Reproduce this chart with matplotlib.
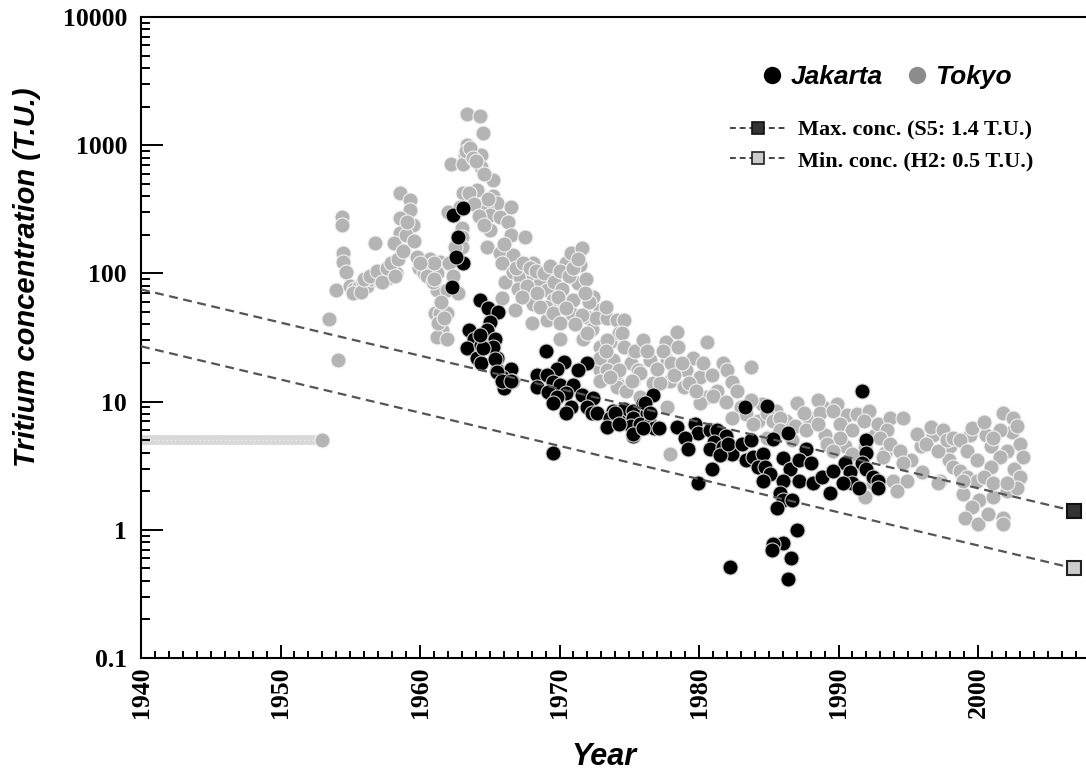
import numpy as np
import matplotlib
matplotlib.use('Agg')
import matplotlib.pyplot as plt
from matplotlib.lines import Line2D
from matplotlib.ticker import MultipleLocator, LogLocator, NullFormatter, FixedLocator

# Tokyo monthly tritium (T.U.)
tokyo_year = [1953.0, 1953.5, 1954.1, 1954.0, 1954.4, 1954.4, 1954.5, 1954.5, 1954.7,
              1955.0, 1955.3, 1955.6, 1955.9, 1956.2, 1956.5, 1956.8, 1957.1, 1957.4, 1957.7, 1958.0, 1958.3, 1956.8,
              1955.2, 1955.8, 1956.0, 1956.4, 1956.9, 1957.3, 1957.6, 1957.9, 1958.2, 1958.4,
              1958.6, 1959.3, 1959.3, 1958.6, 1959.5, 1958.6, 1958.1, 1958.8, 1959.8, 1960.7, 1961.4, 1961.2, 1961.2,
              1961.9, 1961.1, 1961.6, 1961.2, 1961.9, 1962.7, 1961.4, 1961.9, 1961.3,
              1959.0, 1959.1, 1959.6, 1959.9, 1960.3, 1960.5, 1960.9, 1961.0, 1961.5, 1961.7, 1961.0, 1960.0,
              1962.2, 1963.2, 1963.4, 1963.4, 1964.3, 1964.5, 1964.4, 1964.4, 1963.1, 1965.2, 1964.1, 1963.1, 1965.2,
              1965.5, 1964.7, 1966.5, 1965.0, 1965.7, 1966.3, 1965.0, 1966.5, 1967.5, 1963.0, 1963.0, 1963.0, 1964.8,
              1962.0, 1962.1, 1962.4, 1962.5, 1962.9, 1963.3, 1963.6, 1963.8, 1964.0, 1964.6, 1964.9, 1963.5, 1963.9,
              1964.2, 1964.6,
              1965.7, 1966.7, 1968.1, 1965.9, 1966.1, 1965.9, 1966.8, 1966.7, 1967.2, 1968.1, 1968.6, 1969.1, 1969.8,
              1970.5, 1970.8, 1971.6, 1971.5, 1971.3, 1969.5, 1968.1, 1968.0, 1969.1, 1970.3, 1971.0, 1972.4, 1972.9,
              1972.0, 1972.3, 1971.7, 1970.0, 1972.9, 1974.1,
              1966.0, 1966.9, 1967.0, 1967.4, 1967.7, 1967.9, 1968.3, 1968.9, 1969.3, 1969.6, 1970.0, 1970.2, 1970.7,
              1971.0, 1971.3, 1971.9, 1972.1, 1972.6, 1969.0, 1969.9, 1970.9, 1971.8, 1967.3, 1968.4,
              1968.6, 1969.5, 1970.0, 1970.5, 1971.6, 1971.1, 1972.0, 1973.4, 1974.1, 1972.9, 1973.6, 1974.3, 1975.3,
              1973.8, 1972.9, 1975.1, 1975.6, 1974.1, 1973.4, 1976.5, 1972.9, 1974.1, 1975.3, 1976.7, 1974.8, 1975.8,
              1973.3, 1974.6, 1974.5, 1973.4, 1973.3, 1974.6, 1975.4, 1974.3, 1973.6, 1975.8, 1975.2, 1977.6, 1978.4,
              1978.5, 1980.6, 1979.6, 1977.7, 1979.1, 1977.9, 1977.2, 1980.1, 1978.9, 1981.7, 1982.0, 1982.4, 1983.7,
              1981.3, 1980.6, 1980.1, 1977.7, 1977.9,
              1976.0, 1976.3, 1977.0, 1977.4, 1978.0, 1978.2, 1978.8, 1979.3, 1979.8, 1980.3, 1980.9, 1981.0, 1981.9,
              1982.7, 1983.0, 1983.4, 1984.2, 1984.5, 1985.5, 1986.2, 1986.9, 1987.9, 1988.9, 1989.9, 1990.6, 1991.3,
              1992.2, 1989.0, 1990.5, 1992.6, 1993.3, 1995.2, 1995.9, 1996.8, 1998.0, 1999.4, 2000.6, 2000.9, 2002.4,
              2002.6, 1996.0, 1997.9,
              1982.4, 1983.7, 1983.9, 1984.9, 1985.3, 1985.8, 1987.0, 1987.5, 1988.5, 1988.7, 1989.6, 1987.7, 1985.8,
              1984.9, 1986.7, 1988.5, 1990.1, 1991.0, 1991.8, 1992.8, 1993.7, 1994.6, 1993.5, 1993.0, 1990.1, 1989.2,
              1989.6, 1991.9, 1991.0, 1993.2, 1993.7, 1994.4, 1994.6, 1993.9, 1994.9, 1994.2, 1991.9, 1992.5,
              1995.6, 1996.6, 1997.5, 1996.3, 1997.1, 1997.8, 1998.2, 1998.7, 1999.2, 1999.6, 2000.4, 1998.2, 1998.7,
              1999.2, 1999.9, 1997.3, 1997.1, 1998.9, 2000.1, 2001.1, 1999.6, 1999.1, 2000.0, 2000.7, 2001.8, 2001.8,
              2001.8, 2002.5, 2002.8, 2001.6, 2001.1, 2003.0, 2002.1, 2003.2, 2001.6, 2000.9, 2000.4, 2001.1, 2002.1,
              2003.0, 2002.8, 2002.1, 1999.9, 1998.9]
tokyo_tu = [5.0, 44, 21, 74, 277, 240, 145, 122, 102,
            80, 75, 78, 85, 80, 90, 95, 88, 98, 92, 110, 100, 173,
            70, 72, 90, 95, 105, 85, 110, 120, 95, 130,
            426, 372, 313, 270, 240, 206, 173, 150, 134, 130, 122, 100, 74,
            74, 49, 36, 32, 31, 70, 49, 49, 41,
            200, 250, 180, 110, 100, 95, 85, 90, 60, 45, 120, 120,
            710, 840, 1000, 1750, 1680, 1250, 840, 680, 710, 540, 450, 425, 400,
            355, 330, 330, 285, 277, 250, 220, 200, 193, 225, 193, 160, 160,
            300, 120, 95, 160, 330, 900, 950, 800, 750, 600, 380, 420, 350,
            280, 240,
            145, 140, 120, 120, 86, 64, 52, 102, 94, 97, 84, 74, 97,
            120, 145, 157, 117, 84, 62, 58, 41, 43, 58, 62, 65, 52,
            46, 37, 31, 31, 17.5, 14,
            170, 110, 75, 120, 80, 110, 105, 100, 115, 85, 105, 75, 95,
            110, 130, 90, 60, 45, 55, 65, 48, 70, 65, 70,
            55, 49, 41, 54, 47, 40, 34, 45, 43, 26.5, 29, 34, 25,
            21, 21.7, 20, 17.5, 16.6, 17.5, 21, 14.6, 12.9, 14.6, 13.9, 12.2, 10.8,
            55, 43, 34, 30, 25, 26.5, 25, 17.5, 15.5, 16.6, 14.6, 29, 35,
            26.5, 29, 22, 21, 17.5, 14.6, 13.9, 15.5, 12.9, 20, 17.5, 14.1, 18.5,
            12.2, 10.8, 9.7, 9.0, 3.9,
            30, 25, 18, 25, 20, 16, 20, 14, 12, 20, 16, 11, 10,
            12, 9, 8, 7, 9.5, 8.5, 7, 6.5, 7.5, 9, 9.5, 7.8, 8,
            8.5, 5.5, 4.5, 5.5, 4, 3.5, 4.5, 5.5, 4.5, 5.5, 5.5, 4.5, 5.8,
            3, 2.8, 3.5,
            7.5, 10.2, 6.7, 8.1, 7.1, 7.5, 9.7, 8.1, 10.2, 8.1, 8.5, 6.0, 6.0,
            5.2, 5.0, 6.7, 6.7, 6.0, 7.1, 6.7, 7.5, 7.5, 6.0, 5.2, 5.2, 4.7,
            4.1, 4.4, 3.9, 3.7, 4.7, 4.1, 3.3, 2.4, 2.4, 2.0, 1.8, 2.3,
            5.6, 6.3, 6.0, 4.7, 4.1, 5.0, 5.2, 5.0, 4.1, 6.2, 6.9, 3.1, 2.9,
            2.6, 2.4, 2.4, 2.3, 1.9, 1.7, 1.8, 1.5, 1.24, 1.1, 1.33, 1.24, 1.1,
            8.1, 7.5, 6.5, 6.0, 5.2, 4.7, 4.1, 3.7, 3.7, 3.1, 2.6, 2.3, 2.0,
            2.6, 2.1, 2.3, 3.5, 2.4]

# Jakarta samples (T.U.)
jakarta_year = [1962.3, 1962.4, 1963.1, 1962.7, 1963.1, 1962.6,
                1964.3, 1964.9, 1965.6, 1965.0, 1963.5, 1964.8, 1965.4, 1963.9, 1963.4, 1964.4, 1964.1, 1965.5,
                1964.4, 1965.5, 1966.5, 1965.9, 1966.6, 1966.0, 1965.2, 1964.5, 1964.3, 1965.4, 1965.5, 1965.9, 1966.5,
                1969.0, 1970.3, 1972.0, 1971.3, 1969.8, 1968.4, 1969.1, 1969.5, 1968.4, 1970.0, 1971.0, 1969.2, 1970.5,
                1971.6, 1969.8, 1972.4, 1969.5, 1970.8, 1970.5, 1972.0, 1972.3, 1972.7, 1973.8, 1974.6, 1975.3, 1976.0,
                1976.7, 1973.6, 1974.3, 1975.3, 1976.3, 1973.4, 1975.1, 1975.8, 1976.5, 1976.8, 1975.3, 1969.5,
                1976.1, 1976.5, 1974.0, 1974.3, 1975.3, 1976.0, 1977.1, 1978.4, 1979.7, 1979.9, 1979.0, 1979.2, 1980.9,
                1979.9, 1980.8, 1981.3, 1981.9, 1981.1, 1980.8, 1981.7, 1982.4, 1981.5, 1982.1, 1983.1, 1983.3, 1984.9,
                1983.7, 1983.4, 1983.9, 1984.6, 1984.2, 1984.7, 1985.1, 1984.6, 1985.3, 1986.4, 1986.0, 1986.5, 1986.0,
                1985.8, 1986.0, 1985.6, 1987.0, 1986.0, 1985.3, 1985.2, 1986.6, 1986.4, 1982.2, 1986.7, 1987.7, 1987.2,
                1988.0, 1987.2, 1988.2, 1988.8, 1989.4, 1990.5, 1989.6, 1990.8, 1991.0, 1991.5, 1990.3, 1991.7, 1992.0,
                1992.0, 1991.7, 1992.0, 1992.5, 1992.8, 1992.8]
jakarta_tu = [78, 286, 323, 193, 120, 134,
              62, 54, 50, 42, 36, 36, 31, 31, 26, 27.5, 22, 22,
              20, 17.5, 18, 15.5, 14.6, 12.7, 26.5, 26, 33, 21.6, 16.9, 14.6, 14.6,
              25, 20.2, 20, 17.5, 18, 16, 16, 14.1, 12.9, 13.4, 13.4, 11.8, 11.6,
              11.2, 10.8, 10.6, 9.8, 9.0, 8.2, 9.0, 8.1, 8.2, 8.5, 8.8, 8.5, 9.7,
              11.2, 7.4, 7.1, 7.4, 8.1, 6.3, 6.5, 6.7, 6.7, 6.2, 5.4, 4.0,
              9.7, 8.1, 8.2, 6.7, 5.6, 6.2, 6.2, 6.3, 6.7, 5.7, 5.2, 4.3, 3.0,
              2.3, 6.0, 6.0, 5.4, 4.8, 4.3, 4.4, 3.9, 3.8, 4.7, 4.7, 9.0, 9.3,
              5.0, 3.5, 3.7, 3.9, 3.1, 3.1, 2.7, 2.4, 5.1, 5.7, 3.6, 3.0, 2.4,
              1.95, 1.7, 1.47, 1.0, 0.79, 0.78, 0.70, 0.60, 0.41, 0.51, 1.7, 4.3, 3.5,
              3.3, 2.4, 2.3, 2.6, 1.95, 3.3, 2.9, 2.8, 2.3, 2.1, 2.3, 12.2, 5.0,
              4.0, 3.3, 3.0, 2.6, 2.4, 2.1]

# pre-bomb background assumed for Tokyo
background_year = [1940, 1953]
background_tu = [5, 5]

# decay lines ending at the sampled groundwater concentrations
decay_year = [1940, 2006.9]
max_line = [75, 1.4]   # S5
min_line = [27, 0.5]   # H2

serif = 'Liberation Serif'
sans = 'Liberation Sans'

fig = plt.figure(figsize=(10.86, 7.75), dpi=100)
ax = fig.add_axes([141 / 1086, 117 / 775, 945 / 1086, 641 / 775])

ax.plot(background_year, background_tu, color='#d8d8d8', lw=7, solid_capstyle='round', zorder=1)
ax.plot(background_year, background_tu, color='white', lw=1, ls=(0, (1, 2)), alpha=0.6, zorder=1)

ax.scatter(tokyo_year, tokyo_tu, s=117, c='#b4b4b4', edgecolors='#f2f2f2', linewidths=0.8, zorder=2)
ax.scatter(jakarta_year, jakarta_tu, s=117, c='black', edgecolors='#d0d0d0', linewidths=0.8, zorder=3)

ax.plot(decay_year, max_line, color='#555555', lw=1.6, ls=(0, (4, 2.5)), zorder=4)
ax.plot(decay_year, min_line, color='#555555', lw=1.6, ls=(0, (4, 2.5)), zorder=4)
ax.plot(decay_year[-1], max_line[-1], marker='s', ms=10, mfc='#333333', mec='#111111', mew=1.5, zorder=5)
ax.plot(decay_year[-1], min_line[-1], marker='s', ms=10, mfc='#cccccc', mec='#222222', mew=1.5, zorder=5)

ax.set_yscale('log')
ax.set_xlim(1940, 2007.74)
ax.set_ylim(0.1, 10000)

ax.xaxis.set_major_locator(MultipleLocator(10))
ax.xaxis.set_minor_locator(MultipleLocator(1))
ax.yaxis.set_major_locator(FixedLocator([0.1, 1, 10, 100, 1000, 10000]))
ax.yaxis.set_minor_locator(LogLocator(base=10, subs=np.arange(2, 10)))
ax.yaxis.set_minor_formatter(NullFormatter())
ax.set_yticklabels(['0.1', '1', '10', '100', '1000', '10000'])
ax.set_xticks([1940, 1950, 1960, 1970, 1980, 1990, 2000])
ax.set_xticklabels(['1940', '1950', '1960', '1970', '1980', '1990', '2000'], rotation=90)

ax.tick_params(axis='x', which='major', direction='in', length=9.5, width=1.4, pad=6)
ax.tick_params(axis='x', which='minor', direction='in', length=4.7, width=1.4)
ax.tick_params(axis='y', which='major', direction='in', length=16, width=1.4, pad=10)
ax.tick_params(axis='y', which='minor', direction='in', length=6.5, width=1.4)
for lab in ax.get_xticklabels() + ax.get_yticklabels():
    lab.set_fontfamily(serif)
    lab.set_fontweight('bold')
    lab.set_fontsize(18.5)

ax.spines['right'].set_visible(False)
for sp in ['left', 'bottom', 'top']:
    ax.spines[sp].set_linewidth(1.5)

ax.set_xlabel('Year', fontfamily=sans, fontweight='bold', fontstyle='italic', fontsize=22)
ax.xaxis.set_label_coords(0.49, -0.131)
ax.set_ylabel('Tritium concentration (T.U.)', fontfamily=sans, fontweight='bold', fontstyle='italic',
              fontsize=21)
ax.yaxis.set_label_coords(-0.106, 0.594)

h_jak = Line2D([], [], ls='none', marker='o', ms=11.5, mfc='black', mec='black')
h_tok = Line2D([], [], ls='none', marker='o', ms=11.5, mfc='#8c8c8c', mec='#8c8c8c')
leg1 = ax.legend([h_jak, h_tok], ['Jakarta', 'Tokyo'], ncol=2, frameon=False, loc='upper left',
                 bbox_to_anchor=(764 / 1086, 1 - 65 / 775), bbox_transform=fig.transFigure,
                 handlelength=0.6, handletextpad=0.4, columnspacing=1.0, borderaxespad=0, borderpad=0,
                 prop={'family': sans, 'weight': 'bold', 'style': 'italic', 'size': 19})
ax.add_artist(leg1)

h_max = Line2D([], [], color='#444444', lw=1.4, ls=(0, (3, 2)), marker='s', ms=8.5,
               mfc='#333333', mec='#111111', mew=1.2)
h_min = Line2D([], [], color='#444444', lw=1.4, ls=(0, (3, 2)), marker='s', ms=8.5,
               mfc='#cccccc', mec='#222222', mew=1.2)
ax.legend([h_max, h_min], ['Max. conc. (S5: 1.4 T.U.)', 'Min. conc. (H2: 0.5 T.U.)'],
          frameon=False, loc='upper left', bbox_to_anchor=(730 / 1086, 1 - 120 / 775),
          bbox_transform=fig.transFigure, handlelength=2.5, handletextpad=0.55, labelspacing=0.45,
          borderaxespad=0, borderpad=0, prop={'family': serif, 'weight': 'bold', 'size': 16})

fig.savefig('out.png', dpi=100)
